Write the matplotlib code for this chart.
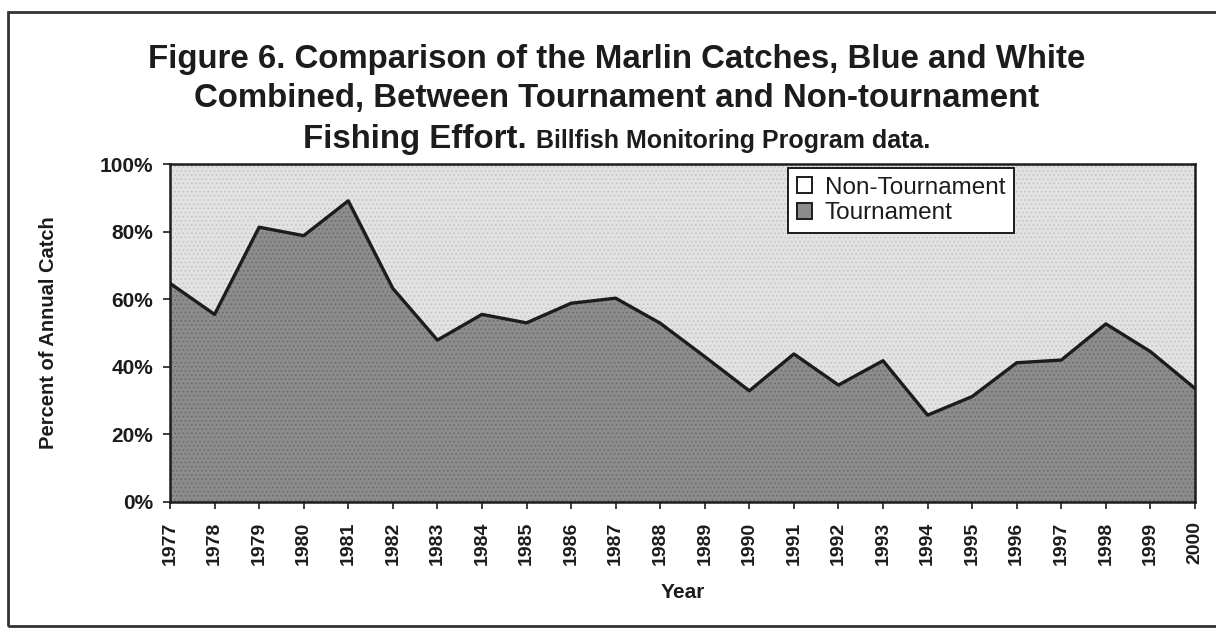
import numpy as np
import matplotlib.pyplot as plt
from matplotlib.patches import Rectangle

years = list(range(1977, 2001))
tournament = [64.7, 55.5, 81.3, 78.8, 89.1, 63.2, 47.9, 55.5, 53.0, 58.8, 60.3, 52.9,
              43.0, 32.9, 43.8, 34.6, 41.8, 25.7, 31.2, 41.2, 42.0, 52.7, 44.5, 33.6]
non_tournament = [100 - t for t in tournament]
series_names = ['Non-Tournament', 'Tournament']
pct_ticks = [0, 20, 40, 60, 80, 100]

plt.rcParams['font.family'] = ['Liberation Sans', 'DejaVu Sans']
plt.rcParams['hatch.linewidth'] = 0.6
ink = '#1c1c1c'

fig = plt.figure(figsize=(12.16, 6.32), dpi=100)
ax = fig.add_axes([0.1398, 0.2057, 0.8429, 0.5348])

x = np.array(years)
t = np.array(tournament)
nt = np.array(non_tournament)

# stacked shares of the annual catch
plt.rcParams['hatch.color'] = '#c2c2c2'
ax.fill_between(x, t, t + nt, facecolor='#e2e2e2', edgecolor='none', hatch='....', zorder=1)
plt.rcParams['hatch.color'] = '#6a6a6a'
ax.fill_between(x, 0, t, facecolor='#8c8c8c', edgecolor='none', hatch='....', zorder=2)
ax.plot(x, t, color=ink, linewidth=2.4, zorder=3)

ax.set_xlim(1977, 2000)
ax.set_ylim(0, 100)
ax.set_xticks(years)
ax.set_xticklabels([str(y) for y in years], rotation=90, fontsize=14, fontweight='bold', color=ink)
ax.set_yticks(pct_ticks)
ax.set_yticklabels([f'{p}%' for p in pct_ticks], fontsize=15, fontweight='bold', color=ink)
ax.tick_params(direction='out', length=5, width=1.2, color=ink)
ax.tick_params(axis='y', pad=7)
ax.tick_params(axis='x', pad=9)
for s in ax.spines.values():
    s.set_linewidth(1.8)
    s.set_color(ink)

ax.set_xlabel('Year', fontsize=15, fontweight='bold', color=ink)
ax.xaxis.set_label_coords(0.5, -0.24)
ax.set_ylabel('Percent of Annual Catch', fontsize=14.5, fontweight='bold', color=ink)
ax.yaxis.set_label_coords(-0.109, 0.5)

# legend
h1 = Rectangle((0, 0), 1, 1, facecolor='white', edgecolor=ink, linewidth=1.4)
h2 = Rectangle((0, 0), 1, 1, facecolor='#8c8c8c', edgecolor=ink, linewidth=1.4)
leg = ax.legend([h1, h2], series_names, loc='upper left', bbox_to_anchor=(0.603, 0.988),
                fontsize=17.5, frameon=True, fancybox=False, handlelength=0.65,
                handleheight=0.65, handletextpad=0.5, borderpad=0.35, labelspacing=0.15,
                borderaxespad=0, framealpha=1)
leg.get_frame().set_edgecolor(ink)
leg.get_frame().set_linewidth(1.4)
for txt in leg.get_texts():
    txt.set_color(ink)

# title block
cx = 0.507
fig.text(cx, 1 - 68 / 632, 'Figure 6. Comparison of the Marlin Catches, Blue and White',
         ha='center', va='baseline', fontsize=23.8, fontweight='bold', color=ink)
fig.text(cx, 1 - 107 / 632, 'Combined, Between Tournament and Non-tournament',
         ha='center', va='baseline', fontsize=23.8, fontweight='bold', color=ink)
big = fig.text(0, 1 - 148 / 632, 'Fishing Effort. ', ha='left', va='baseline',
               fontsize=23.8, fontweight='bold', color=ink)
small = fig.text(0, 1 - 148 / 632, 'Billfish Monitoring Program data.', ha='left',
                 va='baseline', fontsize=18, fontweight='bold', color=ink)
r = fig.canvas.get_renderer()
wb = big.get_window_extent(r).width / fig.bbox.width
ws = small.get_window_extent(r).width / fig.bbox.width
x0 = cx - (wb + ws) / 2
big.set_x(x0)
small.set_x(x0 + wb)

# outer frame
fig.patches.append(Rectangle((8 / 1216, 6 / 632), 1.2, 614 / 632, transform=fig.transFigure,
                             fill=False, edgecolor='#333333', linewidth=2))

plt.savefig('out.png', dpi=100)
